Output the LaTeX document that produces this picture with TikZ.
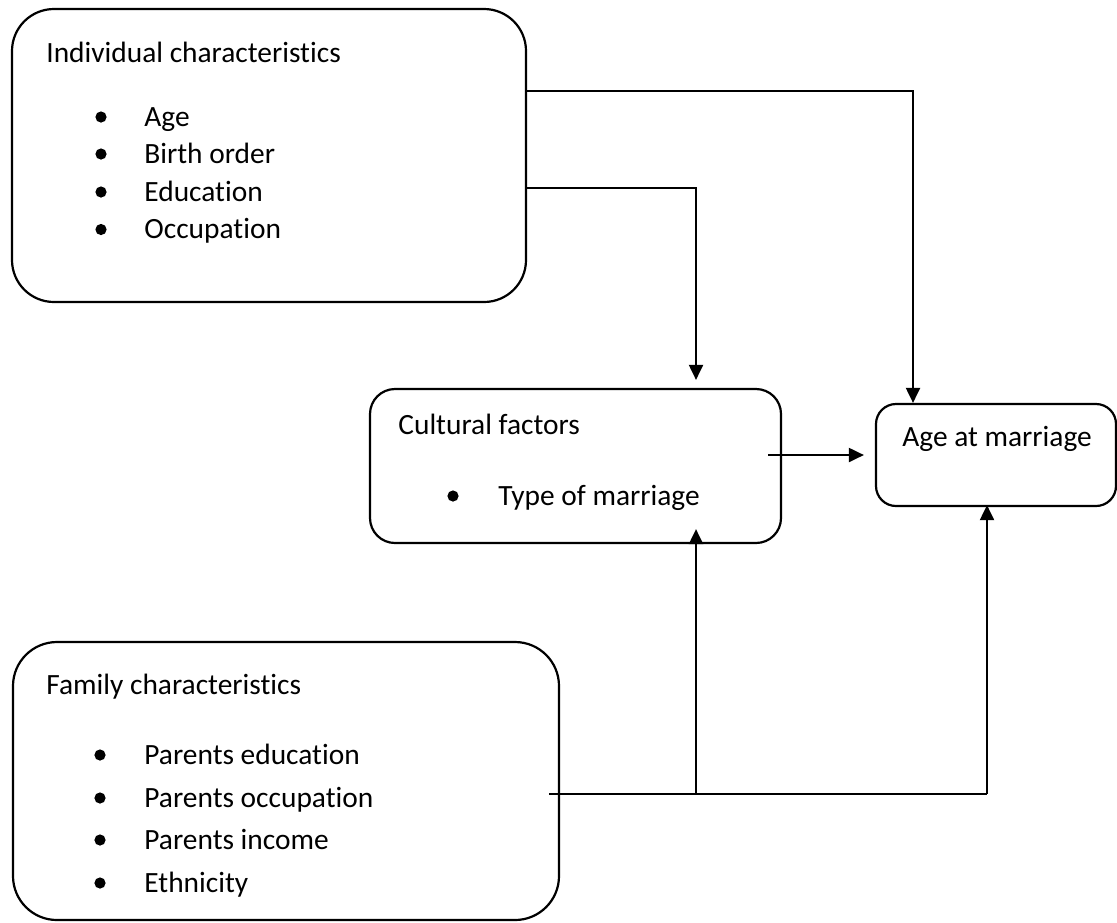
\documentclass[tikz,border=0pt]{standalone}
\usepackage{fontspec}
\setmainfont{Carlito}[Ligatures=NoCommon]
\usetikzlibrary{arrows.meta}
\begin{document}
\begin{tikzpicture}[x=0.5pt,y=-0.5pt,
  box/.style={draw,line width=1.1pt,inner sep=0pt},
  txt/.style={anchor=base west,inner sep=0pt,font=\fontsize{14.7}{17}\selectfont},
  bul/.style={circle,fill,inner sep=0pt,minimum size=5.6pt},
  conn/.style={line width=1pt},
  arr/.style={line width=1pt,-{Triangle[length=7.5pt,width=7pt]}}]
\useasboundingbox (0,0) rectangle (1117,922);
% boxes
\node[box,rounded corners=21pt,minimum width=257pt,minimum height=146.5pt] (ind) at (269,155.5) {};
\node[box,rounded corners=12.5pt,minimum width=205.5pt,minimum height=77pt] (cult) at (575.5,466) {};
\node[box,rounded corners=10pt,minimum width=120pt,minimum height=51pt] (age) at (996,455) {};
\node[box,rounded corners=22pt,minimum width=273pt,minimum height=139pt] (fam) at (286,781) {};
% texts
\node[txt] (t1) at (46,62) {Individual characteristics};
\node[bul] (b11) at (101,117) {};
\node[txt] (t11) at (144,126) {Age};
\node[bul] (b12) at (101,154) {};
\node[txt] (t12) at (144,163) {Birth order};
\node[bul] (b13) at (101,192) {};
\node[txt] (t13) at (144,201) {Education};
\node[bul] (b14) at (101,229.5) {};
\node[txt] (t14) at (144,238.5) {Occupation};
\node[txt] (t2) at (398,434) {Cultural factors};
\node[bul] (b21) at (453,496) {};
\node[txt] (t21) at (498,505) {Type of marriage};
\node[txt] (t3) at (902,446) {Age at marriage};
\node[txt] (t4) at (46,694) {Family characteristics};
\node[bul] (b41) at (100,755) {};
\node[txt] (t41) at (144,764) {Parents education};
\node[bul] (b42) at (100,798) {};
\node[txt] (t42) at (144,807) {Parents occupation};
\node[bul] (b43) at (100,840) {};
\node[txt] (t43) at (144,849) {Parents income};
\node[bul] (b44) at (100,883) {};
\node[txt] (t44) at (144,892) {Ethnicity};
% connector coordinates
\coordinate (k1) at (913,91);
\coordinate (k2) at (696,188);
\coordinate (k3) at (768,455);
\coordinate (k4) at (549,794);
\coordinate (j1) at (696,794);
\coordinate (j2) at (987,794);
% connectors
\draw[arr] (ind.east |- k1) -- (k1) -- (k1 |- age.north);
\draw[arr] (ind.east |- k2) -- (k2) -- ([yshift=4pt]k2 |- cult.north);
\draw[arr] (k3) -- ([xshift=-5.5pt]age.west |- k3);
\draw[conn] (k4) -- (j2);
\draw[arr] (j1) -- ([yshift=7.5pt]j1 |- cult.south);
\draw[arr] (j2) -- ([yshift=1pt]j2 |- age.south);
\end{tikzpicture}
\end{document}
